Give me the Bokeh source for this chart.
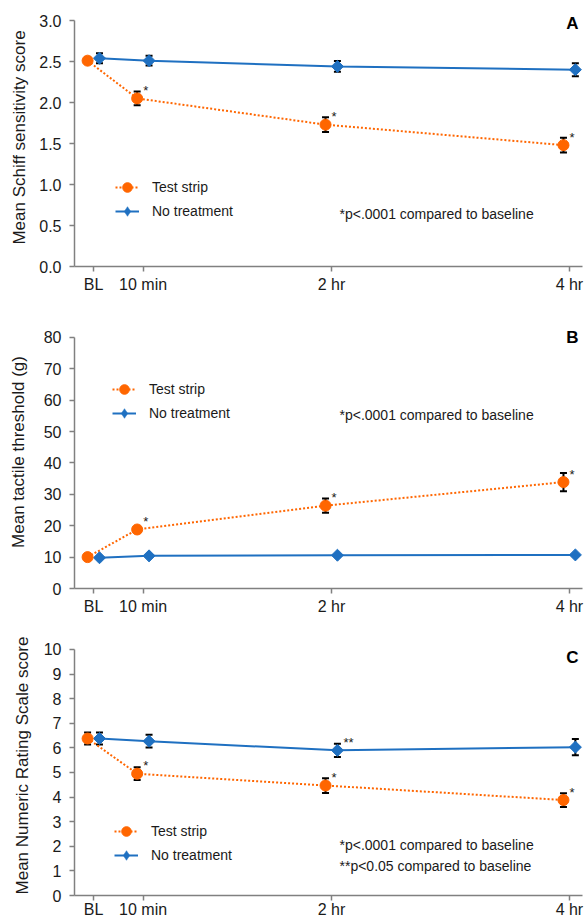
import math
from bokeh.plotting import figure
from bokeh.models import (ColumnDataSource, Whisker, TeeHead, Legend, LegendItem,
                          Label, FixedTicker, Range1d, NumeralTickFormatter)
from bokeh.layouts import column
from bokeh.core.properties import value
from bokeh.embed import file_html
from bokeh.resources import INLINE

# ---------------- data ----------------
time_labels = ["BL", "10 min", "2 hr", "4 hr"]
time_pos = [0, 25, 120, 240]

schiff_ticks = [0.0, 0.5, 1.0, 1.5, 2.0, 2.5, 3.0]
schiff_test = [2.51, 2.05, 1.73, 1.48]
schiff_test_err = [0.04, 0.085, 0.09, 0.09]
schiff_test_sig = ["", "*", "*", "*"]
schiff_none = [2.54, 2.51, 2.44, 2.40]
schiff_none_err = [0.06, 0.06, 0.065, 0.08]
schiff_none_sig = ["", "", "", ""]

tactile_ticks = [0, 10, 20, 30, 40, 50, 60, 70, 80]
tactile_test = [10.0, 18.8, 26.4, 33.9]
tactile_test_err = [0.6, 0.8, 2.3, 2.9]
tactile_test_sig = ["", "*", "*", "*"]
tactile_none = [9.8, 10.4, 10.6, 10.7]
tactile_none_err = [0.3, 0.3, 0.3, 0.3]
tactile_none_sig = ["", "", "", ""]

nrs_ticks = [0, 1, 2, 3, 4, 5, 6, 7, 8, 9, 10]
nrs_test = [6.38, 4.95, 4.47, 3.88]
nrs_test_err = [0.24, 0.26, 0.30, 0.28]
nrs_test_sig = ["", "*", "*", "*"]
nrs_none = [6.38, 6.27, 5.90, 6.03]
nrs_none_err = [0.24, 0.26, 0.27, 0.33]
nrs_none_sig = ["", "", "**", ""]

note_main = "*p<.0001 compared to baseline"
note_extra = "**p<0.05 compared to baseline"

# ---------------- style ----------------
FONT = "Liberation Sans"
ORANGE = "#FF6600"
BLUE = "#1F70C1"
AXIS = "#808080"
TEXT = "#1A1A1A"
SHIFT = 3.0          # horizontal dodge of the two series (x units)


def make_panel(ylabel, yticks, yfmt, test, test_err, test_sig, none, none_err, none_sig,
               letter, letter_y, notes, note_ys, height, b_top, b_bottom, pad_top,
               ylab_standoff, legend_xy, xlab_standoff=4):
    axis_px = height - b_top - b_bottom - pad_top
    y0, y1 = yticks[0], yticks[-1]
    y_end = y1 + pad_top * (y1 - y0) / axis_px
    p = figure(width=588, height=height, x_range=Range1d(-9.6, 246.6),
               y_range=Range1d(y0, y_end),
               output_backend="svg", toolbar_location=None,
               min_border_left=74, min_border_right=6,
               min_border_top=b_top, min_border_bottom=b_bottom)
    p.outline_line_color = None
    p.grid.visible = False

    src_t = ColumnDataSource(dict(
        x=[t - SHIFT for t in time_pos], y=test,
        lo=[v - e for v, e in zip(test, test_err)],
        hi=[v + e for v, e in zip(test, test_err)], sig=test_sig))
    src_n = ColumnDataSource(dict(
        x=[t + SHIFT for t in time_pos], y=none,
        lo=[v - e for v, e in zip(none, none_err)],
        hi=[v + e for v, e in zip(none, none_err)], sig=none_sig))

    rn_line = p.line("x", "y", source=src_n, line_color=BLUE, line_width=2)
    rt_line = p.line("x", "y", source=src_t, line_color=ORANGE, line_width=2, line_dash="2 2")

    for src in (src_t, src_n):
        p.add_layout(Whisker(source=src, base="x", upper="hi", lower="lo",
                             line_color="black", line_width=2,
                             upper_head=TeeHead(size=7, line_color="black", line_width=2),
                             lower_head=TeeHead(size=7, line_color="black", line_width=2)))

    # legend swatch for the diamond series (legend glyphs are never rotated)
    rn_key = p.scatter("x", "y", source=src_n, marker="diamond", size=0,
                       fill_color=BLUE, line_color=BLUE, line_width=0.5)
    p.scatter("x", "y", source=src_n, marker="square", angle=math.pi / 4, size=8.5,
              fill_color=BLUE, line_color=BLUE)
    rt_m = p.scatter("x", "y", source=src_t, marker="circle", size=11,
                     fill_color=ORANGE, line_color=ORANGE)

    for src in (src_t, src_n):
        p.text("x", "y", text="sig", source=src, x_offset=6, y_offset=-8,
               text_font=value(FONT), text_font_size="13px", text_color=TEXT,
               text_align="left", text_baseline="alphabetic")

    legend = Legend(items=[LegendItem(label="Test strip", renderers=[rt_line, rt_m]),
                           LegendItem(label="No treatment", renderers=[rn_line, rn_key])],
                    location=legend_xy, orientation="vertical",
                    padding=0, margin=0, spacing=-4, glyph_width=24, glyph_height=24,
                    label_height=20, label_standoff=13, border_line_color=None,
                    background_fill_alpha=0, label_text_font=FONT,
                    label_text_font_size="14px", label_text_color=TEXT)
    p.add_layout(legend)

    for txt, ny in zip(notes, note_ys):
        p.add_layout(Label(x=265, y=ny, x_units="screen", y_units="screen", text=txt,
                           text_font=FONT, text_font_size="14px", text_color=TEXT,
                           text_align="left", text_baseline="middle"))
    p.add_layout(Label(x=498, y=letter_y, x_units="screen", y_units="screen", text=letter,
                       text_font=FONT, text_font_size="17px", text_font_style="bold",
                       text_color="black", text_align="center", text_baseline="middle"))

    # axes
    for ax in (p.xaxis[0], p.yaxis[0]):
        ax.axis_line_color = AXIS
        ax.axis_line_width = 1.5
        ax.major_tick_line_color = AXIS
        ax.major_tick_line_width = 1.5
        ax.major_tick_in = 0
        ax.major_tick_out = 5
        ax.minor_tick_line_color = None
        ax.major_label_text_font = FONT
        ax.major_label_text_font_size = "16px"
        ax.major_label_text_color = TEXT
    p.yaxis.bounds = (y0, y1)
    p.yaxis.ticker = FixedTicker(ticks=yticks)
    p.yaxis.formatter = NumeralTickFormatter(format=yfmt)
    p.yaxis.major_label_standoff = 8
    p.yaxis.axis_label = ylabel
    p.yaxis.axis_label_text_font = FONT
    p.yaxis.axis_label_text_font_size = "17px"
    p.yaxis.axis_label_text_font_style = "normal"
    p.yaxis.axis_label_text_color = TEXT
    p.yaxis.axis_label_standoff = ylab_standoff

    p.xaxis.ticker = FixedTicker(ticks=time_pos)
    p.xaxis.major_label_overrides = {t: lab for t, lab in zip(time_pos, time_labels)}
    p.xaxis.major_label_standoff = xlab_standoff
    return p


pA = make_panel("Mean Schiff sensitivity score", schiff_ticks, "0.0",
                schiff_test, schiff_test_err, schiff_test_sig,
                schiff_none, schiff_none_err, schiff_none_sig,
                "A", 243.5, [note_main], [53],
                300, 8, 34, 12, 7, (41, 43))
pB = make_panel("Mean tactile threshold (g)", tactile_ticks, "0",
                tactile_test, tactile_test_err, tactile_test_sig,
                tactile_none, tactile_none_err, tactile_none_sig,
                "B", 251, [note_main], [174],
                317, 15, 28, 22, 13, (38, 163))
pC = make_panel("Mean Numeric Rating Scale score", nrs_ticks, "0",
                nrs_test, nrs_test_err, nrs_test_sig,
                nrs_none, nrs_none_err, nrs_none_sig,
                "C", 238.5, [note_main, note_extra], [50.5, 30],
                303, 18, 24, 14, 9, (40, 28), xlab_standoff=0)

layout = column(pA, pB, pC, spacing=0)
open("out.html", "w").write(file_html(layout, INLINE))
